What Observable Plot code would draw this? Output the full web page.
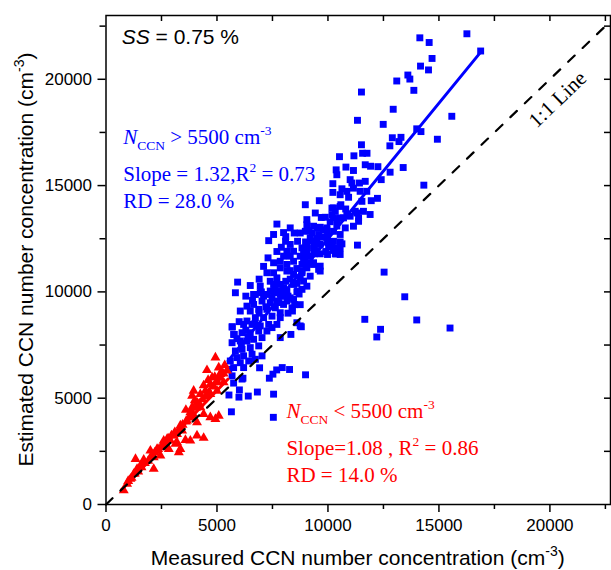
<!DOCTYPE html>
<html><head><meta charset="utf-8">
<script src="https://cdn.jsdelivr.net/npm/d3@7"></script>
<script src="https://cdn.jsdelivr.net/npm/@observablehq/plot@0.6"></script>
<style>html,body{margin:0;padding:0;background:#fff}#chart svg{display:block}</style>
</head><body><div id="chart"></div>
<script>
// Values in thousands of cm^-3: [measured, estimated]
const blueUpper = [[16.26,22.14],[14.14,21.95],[14.56,21.73],[14.69,20.98],[14.17,20.62],[14.53,20.44],[13.60,20.20],[13.69,20.01],[13.10,19.92],[13.87,19.48],[11.51,19.40],[16.88,21.33],[12.94,18.59],[15.58,18.26],[12.49,17.88],[14.00,17.67],[14.19,17.54],[12.90,17.25],[13.29,17.27],[13.20,17.07],[12.79,16.87],[14.93,17.18],[11.51,16.92],[11.56,16.52],[11.76,16.52],[11.68,15.98],[11.92,15.91],[12.25,15.89],[13.39,15.85],[11.33,18.07],[14.32,15.02],[10.52,16.36],[11.17,16.40],[10.81,15.87],[11.15,15.71],[10.37,15.74],[12.80,15.63],[12.40,15.28],[9.61,14.29],[11.95,14.29],[12.23,14.40],[8.98,14.10]];
const blueOutliers = [[12.53,10.93],[13.46,9.77],[11.66,8.71],[14.00,8.68],[12.37,8.24],[15.50,8.30],[12.20,7.88],[8.80,8.36],[11.33,12.20],[10.36,11.79],[8.99,6.10],[7.69,6.33],[7.94,6.44],[8.27,6.35],[7.52,6.13],[7.36,5.94],[6.82,5.29],[6.41,5.10],[5.99,5.05],[5.54,5.15],[6.01,5.39],[5.75,5.71],[6.17,5.94],[5.65,4.36],[7.54,4.10],[7.55,5.19],[8.75,8.40],[8.33,8.00],[7.85,7.85],[8.60,8.55],[5.69,8.36],[6.92,6.43],[5.78,8.00],[5.93,10.46]];
const blueMid = [[7.70,13.19],[8.30,13.01],[8.00,12.79],[7.55,12.70],[7.33,12.41],[8.48,12.77],[8.75,12.77],[9.05,13.16],[9.14,12.88],[9.53,13.01],[9.95,13.01],[9.77,12.57],[9.98,12.62],[9.50,12.51],[9.20,12.54],[8.99,12.35],[8.63,12.38],[8.30,12.23],[8.09,12.38],[8.15,11.91],[8.45,11.91],[8.83,12.07],[9.05,12.15],[9.38,12.20],[9.65,12.23],[10.01,12.32],[10.19,12.10],[10.55,12.35],[10.25,11.95],[10.55,12.07],[10.55,11.76],[10.33,11.79],[9.98,11.76],[9.65,11.79],[9.38,11.79],[9.05,11.76],[8.75,11.68],[8.30,11.68],[8.00,11.68],[7.85,11.44],[8.15,11.29],[8.45,11.44],[8.83,11.29],[9.14,11.37],[9.35,11.29],[9.58,11.06],[9.65,10.98],[8.83,10.98],[8.75,10.66],[8.45,10.82],[8.15,10.98],[7.85,11.13],[7.55,11.37],[7.55,10.90],[7.25,10.90],[7.70,10.66],[7.85,10.35],[7.55,10.35],[7.40,10.04],[6.95,10.27],[6.73,9.88],[7.10,9.80],[7.48,9.72],[7.85,9.88],[8.15,10.04],[8.45,10.35],[8.63,10.04],[8.30,9.72],[9.05,10.27],[9.20,10.74]];
const blueLow = [[5.83,9.96],[6.65,9.88],[6.95,9.96],[7.25,9.88],[7.55,9.96],[7.85,10.04],[8.00,9.80],[7.70,9.57],[7.40,9.49],[7.03,9.57],[6.65,9.41],[6.35,9.33],[6.05,9.10],[6.50,9.10],[6.88,9.18],[7.25,9.18],[7.63,9.25],[8.00,9.41],[8.15,9.57],[8.45,9.65],[8.38,9.25],[7.85,9.02],[7.48,8.86],[7.10,8.79],[6.73,8.79],[6.35,8.63],[6.20,8.47],[5.68,8.35],[6.58,8.47],[6.95,8.40],[7.33,8.47],[7.70,8.47],[7.85,8.79],[6.13,8.08],[5.75,8.00],[6.50,8.08],[6.88,8.16],[7.25,8.16],[7.48,8.32],[6.05,7.69],[5.68,7.61],[6.35,7.69],[6.65,7.77],[7.03,7.85],[6.88,7.46],[6.50,7.38],[6.13,7.30],[5.83,7.22],[6.20,6.99],[6.58,7.07],[7.03,6.99],[5.90,6.91],[5.60,6.75],[6.05,6.67],[6.43,6.75],[6.73,6.83],[5.75,6.44],[5.53,6.36],[6.20,6.44],[5.68,6.05],[6.13,5.90]];
const blueUpperCore = [[10.40,15.51],[11.00,15.28],[11.08,15.12],[11.42,15.12],[11.68,15.20],[10.22,15.09],[10.63,14.85],[10.85,14.73],[11.15,14.88],[11.45,14.73],[11.75,14.73],[10.22,14.68],[10.55,14.57],[10.93,14.45],[11.53,14.26],[9.43,13.71],[9.88,13.51],[10.18,13.94],[10.33,13.79],[10.58,14.10],[10.25,13.48],[10.85,13.64],[11.23,13.79],[11.60,13.79],[11.90,13.64],[9.05,13.40],[10.55,13.48],[11.38,13.48],[10.25,13.95],[10.55,14.02],[10.18,13.63],[10.40,13.40],[10.70,13.48],[11.00,13.56],[11.30,13.71],[11.38,13.32],[11.15,13.09],[10.78,13.01],[10.55,12.70],[10.25,12.85],[9.95,12.93],[9.65,13.04],[9.35,13.09],[8.98,12.85],[9.28,12.77],[9.58,12.70],[9.95,12.54],[10.25,12.38],[10.63,12.26],[10.33,12.07],[10.03,12.15],[9.35,12.07],[9.05,11.99],[8.90,11.76],[9.20,11.68],[9.50,11.91],[8.98,11.44],[9.35,11.37],[9.65,11.21],[9.05,11.13],[8.83,10.90],[8.90,10.51],[8.83,10.12],[8.2,9.8],[8.6,10.0],[8.75,9.4],[8.4,9.1],[8.2,9.0],[8.5,9.4],[8.7,9.9],[8.6,10.4],[8.3,10.6],[8.0,10.2],[7.8,9.5]];
const blueCoreExtra = [[6.3,9.8],[6.5,10.3],[6.9,10.6],[7.1,11.2],[7.3,11.6],[7.0,10.0],[6.6,9.6],[7.4,10.5],[7.7,11.9],[7.9,12.1],[8.1,12.6],[7.2,9.3],[6.9,9.0],[7.6,10.1],[8.1,10.5],[8.3,11.0],[8.6,11.1],[8.9,11.5],[9.3,12.4],[9.8,12.9],[10.1,13.3],[9.7,13.5],[10.4,13.1],[10.8,13.9],[9.9,11.9],[6.0,8.6],[6.3,8.2],[6.7,8.5],[6.1,7.5],[6.4,7.9],[5.9,7.8]];
const redPts = [[4.93,6.91],[4.55,6.32],[5.08,6.44],[5.15,6.13],[4.78,5.97],[5.00,5.82],[5.30,5.74],[4.70,5.66],[3.95,5.35],[4.25,5.19],[4.48,5.35],[4.70,5.19],[5.00,5.35],[3.88,5.11],[4.10,4.80],[3.88,4.57],[4.25,4.57],[3.80,4.33],[3.95,4.10],[4.40,4.25],[4.70,4.10],[4.93,4.02],[5.08,4.17],[4.10,3.86],[3.65,3.94],[3.35,3.71],[3.43,3.47],[3.20,3.31],[3.80,3.00],[3.58,3.03],[4.10,3.24],[4.40,3.13],[3.13,2.85],[2.90,3.00],[2.60,3.00],[2.68,2.69],[2.30,2.61],[3.35,2.61],[3.28,2.45],[2.45,2.30],[2.00,2.53],[2.15,2.22],[1.70,2.10],[1.33,2.14],[1.55,1.83],[2.15,1.67],[1.40,1.67],[1.25,1.44],[1.10,1.20],[0.95,0.97],[0.80,0.66],
[1.00,1.10],[1.15,1.25],[1.30,1.45],[1.45,1.55],[1.60,1.75],[1.75,1.95],[1.90,2.05],[2.05,2.30],[2.20,2.45],[2.35,2.60],[2.50,2.75],[2.65,2.90],[2.80,3.10],[2.95,3.25],[3.10,3.40],[3.30,3.55],[3.45,3.75],[3.60,3.90],[3.75,4.10],[3.90,4.30],[4.05,4.55],[4.20,4.75],[4.35,4.95],[4.50,5.10],[4.65,5.30],[4.85,5.55],[5.00,5.75],[5.15,5.95],[5.30,6.15],[5.45,6.30],[5.35,6.55],[5.20,6.25],[4.90,6.00],[4.40,5.60],[4.60,5.85],[3.60,4.45],[4.00,4.90],[2.75,3.08],[3.05,3.24],[3.20,2.92],[2.83,2.61]];
const blueFitPts = [[5.5,6.75],[16.9,21.3]];
const redFitPts = [[0.7,0.70],[5.5,5.9]];
const oneToOnePts = [[0,0],[22.73,22.73]];
const xMajor = [0,5000,10000,15000,20000];
const yMajor = [0,5000,10000,15000,20000];
const xMinor = [2500,7500,12500,17500,22500];
const yMinor = [2500,7500,12500,17500,22500];

const K = 1000;
const toObj = a => a.map(([m,e]) => ({m: m*K, e: e*K}));
const blue = toObj([...blueUpper, ...blueOutliers, ...blueMid, ...blueLow, ...blueUpperCore, ...blueCoreExtra]);
const red = toObj(redPts);
const blueFit = toObj(blueFitPts), redFit = toObj(redFitPts), oneToOne = toObj(oneToOnePts);

const W = 611, H = 570, ML = 105.5, MR = 1, MT = 15, MB = 66;
const XMAX = 22730, YMAX = 23000;
const plotW = W - ML - MR, plotH = H - MT - MB;
const allX = [...xMajor.slice(1), ...xMinor].sort((a,b)=>a-b);
const allY = [...yMajor.slice(1), ...yMinor].sort((a,b)=>a-b);

const plot = Plot.plot({
  width: W, height: H, marginLeft: ML, marginRight: MR, marginTop: MT, marginBottom: MB,
  x: {domain: [0, XMAX], label: null},
  y: {domain: [0, YMAX], label: null},
  style: {fontFamily: "'Liberation Sans', Arial, sans-serif", fontSize: "17px", color: "black", background: "white"},
  marks: [
    Plot.dot(blue, {x: "m", y: "e", symbol: "square", r: 3.9, fill: "#0000ff"}),
    Plot.dot(red, {x: "m", y: "e", symbol: "triangle", r: 3.7, fill: "#ff0000"}),
    Plot.line(blueFit, {x: "m", y: "e", stroke: "#0000ff", strokeWidth: 3}),
    Plot.line(redFit, {x: "m", y: "e", stroke: "#ff0000", strokeWidth: 3}),
    Plot.line(oneToOne, {x: "m", y: "e", stroke: "black", strokeWidth: 2.2, strokeDasharray: "9,11"}),
    Plot.axisX(xMajor, {tickSize: 8, tickPadding: 6, tickFormat: d => String(d), fontSize: 17, strokeWidth: 1.5, label: null}),
    Plot.axisX(xMinor, {tickSize: 5, tickFormat: () => "", strokeWidth: 1.5, label: null}),
    Plot.axisY(yMajor, {tickSize: 8, tickPadding: 6, tickFormat: d => String(d), fontSize: 17, strokeWidth: 1.5, label: null}),
    Plot.axisY(yMinor, {tickSize: 6, tickFormat: () => "", strokeWidth: 1.5, label: null}),
    Plot.ruleX(allX, {insetBottom: plotH - 6, strokeWidth: 1.5}),
    Plot.ruleY(allY, {insetLeft: plotW - 6, strokeWidth: 1.5}),
    Plot.frame({stroke: "black", strokeWidth: 1.5})
  ]
});
document.getElementById("chart").appendChild(plot);

const sx = d3.scaleLinear([0, XMAX], [ML, W - MR]);
const sy = d3.scaleLinear([0, YMAX], [H - MB, MT]);
const svg = d3.select(plot);
const SERIF = "'Liberation Serif', 'Times New Roman', serif";
const SANS = "'Liberation Sans', Arial, sans-serif";

function rich(x, y, parts, o) {
  const t = svg.append("text").attr("x", x).attr("y", y)
    .attr("fill", o.fill || "black").style("font-family", o.family)
    .style("font-size", o.size + "px").style("white-space", "pre")
    .attr("text-anchor", o.anchor || "start");
  if (o.rotate) t.attr("transform", `rotate(${o.rotate},${x},${y})`);
  let shift = 0;
  for (const p of parts) {
    const s = t.append("tspan").text(p.t);
    const target = p.sub ? o.subShift : p.sup ? -o.supShift : 0;
    if (target !== shift) { s.attr("dy", target - shift); shift = target; }
    if (p.sub || p.sup) s.style("font-size", o.small + "px");
    if (p.italic) s.style("font-style", "italic");
  }
  return t;
}

const serifOpts = (fill) => ({family: SERIF, size: 21, small: 13.5, subShift: 6, supShift: 9, fill});
// SS label
rich(sx(730), sy(21640), [{t: "SS", italic: true}, {t: " = 0.75 %"}], {family: SANS, size: 21, fill: "black"});
// Blue annotation
rich(sx(800), sy(16920), [{t: "N", italic: true}, {t: "CCN", sub: true}, {t: " > 5500 cm"}, {t: "-3", sup: true}], serifOpts("#0000ff"));
rich(sx(800), sy(15200), [{t: "Slope = 1.32,R"}, {t: "2", sup: true}, {t: " = 0.73"}], serifOpts("#0000ff"));
rich(sx(800), sy(13940), [{t: "RD = 28.0 %"}], serifOpts("#0000ff"));
// Red annotation
rich(sx(8150), sy(4050), [{t: "N", italic: true}, {t: "CCN", sub: true}, {t: " < 5500 cm"}, {t: "-3", sup: true}], serifOpts("#ff0000"));
rich(sx(8150), sy(2300), [{t: "Slope=1.08 , R"}, {t: "2", sup: true}, {t: " = 0.86"}], serifOpts("#ff0000"));
rich(sx(8150), sy(1050), [{t: "RD = 14.0 %"}], serifOpts("#ff0000"));
// 1:1 line label
const ang = Math.atan2(sy(1000) - sy(0), sx(1000) - sx(0)) * 180 / Math.PI;
rich(sx(20360), sy(19040), [{t: "1:1 Line"}], {family: SERIF, size: 21, anchor: "middle", rotate: ang, fill: "black"})
  .attr("dominant-baseline", "central");
// Axis titles
rich((ML + W - MR) / 2, 565, [{t: "Measured CCN number concentration (cm"}, {t: "-3", sup: true}, {t: ")"}],
  {family: SANS, size: 21, small: 14, supShift: 9, anchor: "middle"});
rich(33, (MT + H - MB) / 2, [{t: "Estimated CCN number concentration (cm"}, {t: "-3", sup: true}, {t: ")"}],
  {family: SANS, size: 21, small: 14, supShift: 9, anchor: "middle", rotate: -90});
</script>
</body></html>
